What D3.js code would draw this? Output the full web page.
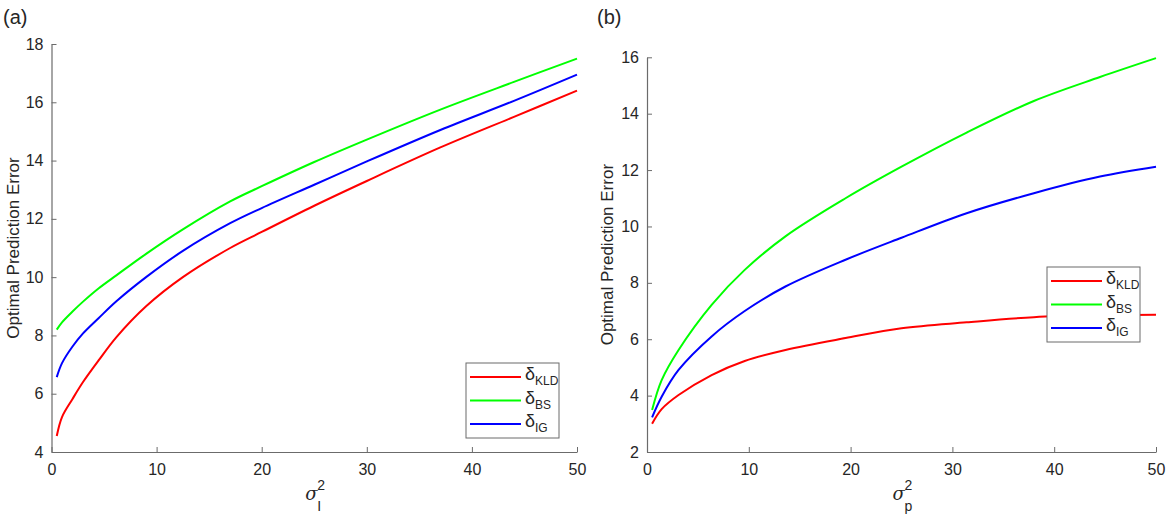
<!DOCTYPE html>
<html lang="en">
<head>
<meta charset="utf-8">
<title>Optimal Prediction Error</title>
<script src="https://d3js.org/d3.v7.min.js"></script>
<style>
    body { margin: 0; background: #fff; font-family: 'Liberation Sans', Arial, sans-serif; }
    svg text { fill: #262626; }
</style>
</head>
<body>
<div id="chart"></div>
<script>
// panel (a): sigma_I^2
var xLeft   = [0.5, 1, 2, 3, 4.5, 6.2, 9, 12.5, 17, 20, 25, 30, 37, 44, 50];
var kldLeft = [4.55, 5.2, 5.82, 6.4, 7.15, 7.95, 9.0, 10.0, 11.0, 11.55, 12.45, 13.3, 14.45, 15.5, 16.4];
var bsLeft  = [8.2, 8.45, 8.82, 9.16, 9.62, 10.07, 10.8, 11.64, 12.6, 13.12, 13.95, 14.72, 15.75, 16.7, 17.5];
var igLeft  = [6.57, 7.05, 7.62, 8.07, 8.6, 9.18, 10.0, 10.9, 11.85, 12.37, 13.17, 13.97, 15.05, 16.05, 16.95];

// panel (b): sigma_p^2
var xRight   = [0.5, 1.44, 3.1, 6.35, 9.6, 13.6, 19.5, 25, 31.4, 38, 44.5, 50];
var kldRight = [3.0, 3.52, 4.02, 4.73, 5.23, 5.62, 6.04, 6.39, 6.6, 6.78, 6.85, 6.87];
var bsRight  = [3.49, 4.55, 5.62, 7.22, 8.46, 9.65, 11.0, 12.12, 13.33, 14.45, 15.3, 15.97];
var igRight  = [3.23, 3.96, 4.91, 6.1, 7.0, 7.87, 8.82, 9.6, 10.47, 11.18, 11.77, 12.12];

var xTicks = [0, 10, 20, 30, 40, 50];
var yTicksLeft = [4, 6, 8, 10, 12, 14, 16, 18];
var yTicksRight = [2, 4, 6, 8, 10, 12, 14, 16];
var seriesNames = ["KLD", "BS", "IG"];
var colors = ["#ff0000", "#00ff00", "#0000ff"];

var svg = d3.select("#chart").append("svg")
    .attr("width", 1170).attr("height", 518);

function panel(opt) {
    var x = d3.scaleLinear().domain([0, 50]).range([opt.left, opt.right]);
    var y = d3.scaleLinear().domain(opt.yDomain).range([opt.bottom, opt.top]);
    var g = svg.append("g");

    // axes, MATLAB style: ticks inside
    var ax = g.append("g").attr("transform", "translate(0," + opt.bottom + ")")
        .call(d3.axisBottom(x).tickValues(xTicks).tickSizeInner(-5).tickSizeOuter(0).tickPadding(12));
    var ay = g.append("g").attr("transform", "translate(" + opt.left + ",0)")
        .call(d3.axisLeft(y).tickValues(opt.yTicks).tickSizeInner(-5).tickSizeOuter(0).tickPadding(8));
    [ax, ay].forEach(function(a) {
        a.select(".domain").attr("stroke", "#6b6b6b").attr("stroke-width", 1.2);
        a.selectAll(".tick line").attr("stroke", "#6b6b6b");
        a.selectAll("text").style("font-size", "16px").style("font-family", "'Liberation Sans', Arial, sans-serif");
    });

    var line = d3.line()
        .x(function(d) { return x(d[0]); })
        .y(function(d) { return y(d[1]); })
        .curve(d3.curveCatmullRom.alpha(0.5));

    opt.series.forEach(function(s, i) {
        g.append("path")
            .datum(opt.xs.map(function(v, j) { return [v, s[j]]; }))
            .attr("fill", "none")
            .attr("stroke", colors[i])
            .attr("stroke-width", 2)
            .attr("d", line);
    });

    // y label
    g.append("text")
        .attr("transform", "translate(" + opt.yLabelX + "," + ((opt.top + opt.bottom) / 2) + ") rotate(-90)")
        .attr("text-anchor", "middle")
        .style("font-size", "17px")
        .text("Optimal Prediction Error");

    // x label: sigma with sub/superscript
    var xl = g.append("g").attr("transform", "translate(" + x(25) + ",500)");
    xl.append("text").attr("x", -9).attr("y", 0)
        .style("font-size", "18px").style("font-style", "italic")
        .style("font-family", "'DejaVu Serif', serif")
        .text("\u03c3");
    xl.append("text").attr("x", 3).attr("y", -10).style("font-size", "14px").text("2");
    xl.append("text").attr("x", 3).attr("y", 11).style("font-size", "14px").text(opt.sub);

    // panel tag
    g.append("text").attr("x", opt.tagX).attr("y", 24)
        .style("font-size", "20px").text(opt.tag);

    // legend
    var lg = g.append("g").attr("transform", "translate(" + opt.legX + "," + opt.legY + ")");
    lg.append("rect").attr("width", 93).attr("height", 75)
        .attr("fill", "#fff").attr("stroke", "#6b6b6b").attr("stroke-width", 1);
    seriesNames.forEach(function(n, i) {
        var yy = 14 + i * 23.5;
        lg.append("line").attr("x1", 4).attr("x2", 55).attr("y1", yy).attr("y2", yy)
            .attr("stroke", colors[i]).attr("stroke-width", 2);
        var t = lg.append("text").attr("x", 59).attr("y", yy + 3).style("font-size", "18px");
        t.append("tspan").text("\u03b4");
        t.append("tspan").attr("dy", 5).style("font-size", "12px").text(n);
    });
}

panel({
    left: 51.5, right: 577, top: 44, bottom: 452,
    yDomain: [4, 18], yTicks: yTicksLeft,
    xs: xLeft, series: [kldLeft, bsLeft, igLeft],
    yLabelX: 19, sub: "I", tag: "(a)", tagX: 3,
    legX: 466, legY: 363
});

panel({
    left: 647, right: 1156, top: 57.3, bottom: 452,
    yDomain: [2, 16], yTicks: yTicksRight,
    xs: xRight, series: [kldRight, bsRight, igRight],
    yLabelX: 613, sub: "p", tag: "(b)", tagX: 597,
    legX: 1047, legY: 267
});
</script>
</body>
</html>
